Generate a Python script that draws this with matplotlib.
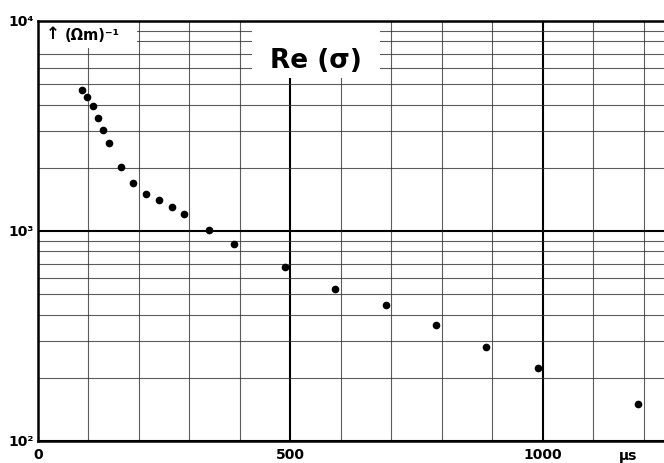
import numpy as np
import matplotlib.pyplot as plt
from matplotlib.patches import Rectangle
from matplotlib.ticker import FixedLocator, NullFormatter

# time in microseconds, Re(sigma) in (Ohm m)^-1
t_us = [87, 98, 108, 118, 128, 140, 164, 189, 214, 240, 265, 289,
        339, 389, 489, 589, 689, 788, 888, 990, 1189]
re_sigma = [4700, 4330, 3920, 3460, 3020, 2630, 2020, 1700, 1500, 1400,
            1300, 1200, 1010, 870, 676, 527, 444, 357, 279, 223, 150]

y_ticks = [100, 1000, 10000]
y_labels = ["10²", "10³", "10⁴"]
x_ticks = [0, 500, 1000]
x_labels = ["0", "500", "1000"]

fig = plt.figure(figsize=(6.64, 4.63), dpi=100)
ax = fig.add_axes([38 / 664, 22 / 463, 626 / 664, 420 / 463])

ax.set_yscale("log")
ax.set_ylim(100, 10000)
ax.set_xlim(0, 1240)

# paper grid
ax.yaxis.set_minor_locator(FixedLocator([m * 10 ** k for k in (2, 3) for m in range(2, 10)]))
ax.yaxis.set_minor_formatter(NullFormatter())
ax.xaxis.set_minor_locator(FixedLocator(np.arange(100, 1240, 100)))
ax.grid(which="minor", color="#333333", lw=0.8, alpha=0.8)
ax.grid(which="major", color="black", lw=1.5)

ax.set_yticks(y_ticks, labels=y_labels)
ax.set_xticks(x_ticks, labels=x_labels)
ax.tick_params(which="both", length=0)
ax.tick_params(axis="y", pad=3, labelsize=10)
ax.tick_params(axis="x", pad=5, labelsize=10)
for lab in ax.get_xticklabels() + ax.get_yticklabels():
    lab.set_fontweight("bold")

for s in ("left", "bottom", "top"):
    ax.spines[s].set_linewidth(1.8)
ax.spines["right"].set_visible(False)

ax.plot(t_us, re_sigma, "o", color="black", ms=4.5, zorder=5)

# white label patches over the grid (below the spines)
ax.add_patch(Rectangle((0, 0.936), 0.158, 0.064, transform=ax.transAxes,
                       facecolor="white", edgecolor="none", zorder=2))
ax.add_patch(Rectangle((0.342, 0.864), 0.204, 0.136, transform=ax.transAxes,
                       facecolor="white", edgecolor="none", zorder=2))

ax.text(0.012, 0.968, "↑", transform=ax.transAxes, fontsize=12,
        fontweight="bold", va="center", ha="left", zorder=4)
ax.text(0.042, 0.966, "(Ωm)⁻¹", transform=ax.transAxes, fontsize=10.5,
        fontweight="bold", va="center", ha="left", zorder=4)
ax.text(0.444, 0.905, "Re (σ)", transform=ax.transAxes, fontsize=19,
        fontweight="bold", va="center", ha="center", zorder=4)

ax.annotate("μs", xy=(1168, 0), xycoords=("data", "axes fraction"),
            xytext=(0, -14), textcoords="offset points", ha="center",
            fontsize=10, fontweight="bold")

fig.savefig("out.png", dpi=100)
